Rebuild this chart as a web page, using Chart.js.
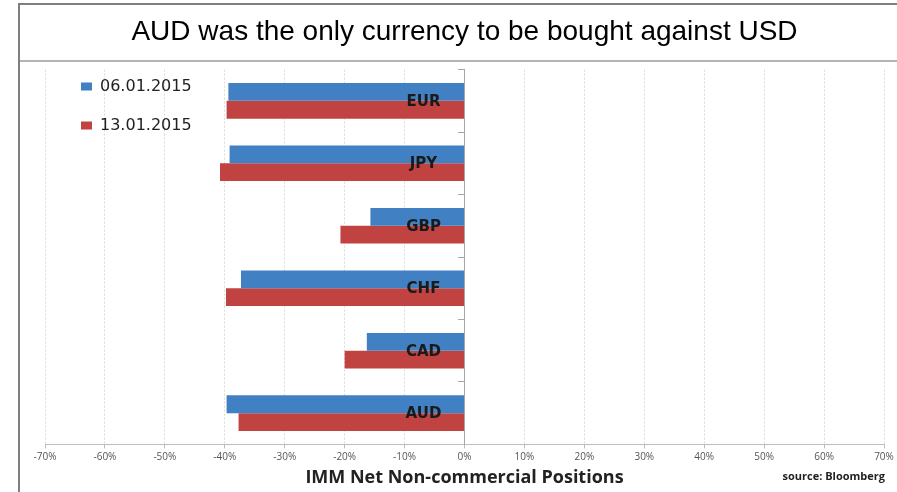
<!DOCTYPE html>
<html>
<head>
<meta charset="utf-8">
<style>
  html, body { margin: 0; padding: 0; background: #fff; }
  #wrap { width: 897px; height: 492px; }
</style>
<script src="https://cdn.jsdelivr.net/npm/chart.js@4.4.1/dist/chart.umd.min.js"></script>
</head>
<body>
<div id="wrap"><canvas id="immChart" width="897" height="492"></canvas></div>
<script>
// Currencies, top to bottom
const currencies = ['EUR', 'JPY', 'GBP', 'CHF', 'CAD', 'AUD'];

// Net non-commercial positions, in %
const week1Label = '06.01.2015';
const week1Values = [-39.4, -39.2, -15.7, -37.3, -16.3, -39.7];
const week2Label = '13.01.2015';
const week2Values = [-39.7, -40.8, -20.7, -39.8, -20.0, -37.7];

// x axis range and step, in %
const xMin = -70;
const xMax = 70;
const xStep = 10;

const titleText = 'AUD was the only currency to be bought against USD';
const xTitleText = 'IMM Net Non-commercial Positions';
const sourceText = 'source: Bloomberg';

// White background, frame lines and the source note
const framePlugin = {
    id: 'frame',
    beforeDraw(chart) {
        const c = chart.ctx;
        c.save();
        c.fillStyle = '#fff';
        c.fillRect(0, 0, chart.width, chart.height);
        c.lineWidth = 2;
        c.strokeStyle = '#7f7f7f';
        c.beginPath();
        c.moveTo(19, chart.height);
        c.lineTo(19, 4);
        c.lineTo(chart.width, 4);
        c.stroke();
        c.strokeStyle = '#b4b4b4';
        c.beginPath();
        c.moveTo(20, 61);
        c.lineTo(chart.width, 61);
        c.stroke();
        c.restore();
    },
    afterDraw(chart) {
        const c = chart.ctx;
        c.save();
        c.font = 'bold 11px "Open Sans"';
        c.fillStyle = '#222';
        c.textAlign = 'right';
        c.textBaseline = 'middle';
        c.fillText(sourceText, 885, 477);
        c.restore();
    }
};

// Category names sit on top of the bars, just left of the 0% line
const currencyLabels = {
    id: 'currencyLabels',
    afterDatasetsDraw(chart) {
        const c = chart.ctx;
        const xs = chart.scales.x;
        const ys = chart.scales.y;
        const cx = xs.getPixelForValue(0) - 41;
        c.save();
        c.font = 'bold 15px "DejaVu Sans"';
        c.fillStyle = '#1a1a1a';
        c.textAlign = 'center';
        c.textBaseline = 'middle';
        currencies.forEach((name, i) => {
            c.fillText(name, cx, ys.getPixelForValue(i) + 1);
        });
        c.restore();
    }
};

// Put the legend in the top left corner of the plot
const legendShift = {
    id: 'legendShift',
    afterLayout(chart) {
        chart.legend.left = chart.chartArea.left + 13;
        chart.legend.top = chart.chartArea.top - 14;
    }
};

const ctx = document.getElementById('immChart').getContext('2d');
const chart = new Chart(ctx, {
    type: 'bar',
    data: {
        labels: currencies,
        datasets: [
            {
                label: week1Label,
                data: week1Values,
                backgroundColor: '#4180c2',
                categoryPercentage: 0.57,
                barPercentage: 1.0
            },
            {
                label: week2Label,
                data: week2Values,
                backgroundColor: '#c04341',
                categoryPercentage: 0.57,
                barPercentage: 1.0
            }
        ]
    },
    options: {
        indexAxis: 'y',
        responsive: false,
        animation: false,
        devicePixelRatio: 1,
        layout: { padding: { left: 45, right: 13, top: 0, bottom: 2 } },
        plugins: {
            title: {
                display: true,
                text: titleText,
                color: '#000',
                font: { family: '"Liberation Sans", Arial, sans-serif', size: 28, weight: 'normal', lineHeight: 1.2 },
                padding: { top: 15, bottom: 21 }
            },
            legend: {
                position: 'chartArea',
                align: 'start',
                labels: {
                    boxWidth: 11,
                    boxHeight: 8,
                    padding: 23,
                    color: '#222',
                    font: { family: '"DejaVu Sans", sans-serif', size: 16 }
                }
            },
            tooltip: { enabled: false }
        },
        scales: {
            x: {
                min: xMin,
                max: xMax,
                ticks: {
                    stepSize: xStep,
                    autoSkip: false,
                    maxRotation: 0,
                    padding: 3,
                    color: '#555',
                    font: { family: '"Open Sans", sans-serif', size: 10 },
                    callback: v => v + '%'
                },
                grid: {
                    color: '#dadada',
                    tickLength: 4,
                    tickColor: '#bdbdbd'
                },
                border: { color: '#bdbdbd', width: 1, dash: [2, 2] },
                title: {
                    display: true,
                    text: xTitleText,
                    color: '#222',
                    font: { family: '"Open Sans", sans-serif', size: 18, weight: 'bold', lineHeight: 1.2 },
                    padding: { top: 1, bottom: 1 }
                }
            },
            y: {
                position: { x: 0 },
                ticks: { display: false },
                grid: {
                    drawOnChartArea: false,
                    tickLength: 6,
                    tickColor: '#a6a6a6'
                },
                border: { color: '#a6a6a6', width: 1 }
            }
        }
    },
    plugins: [framePlugin, currencyLabels, legendShift]
});
</script>
</body>
</html>
